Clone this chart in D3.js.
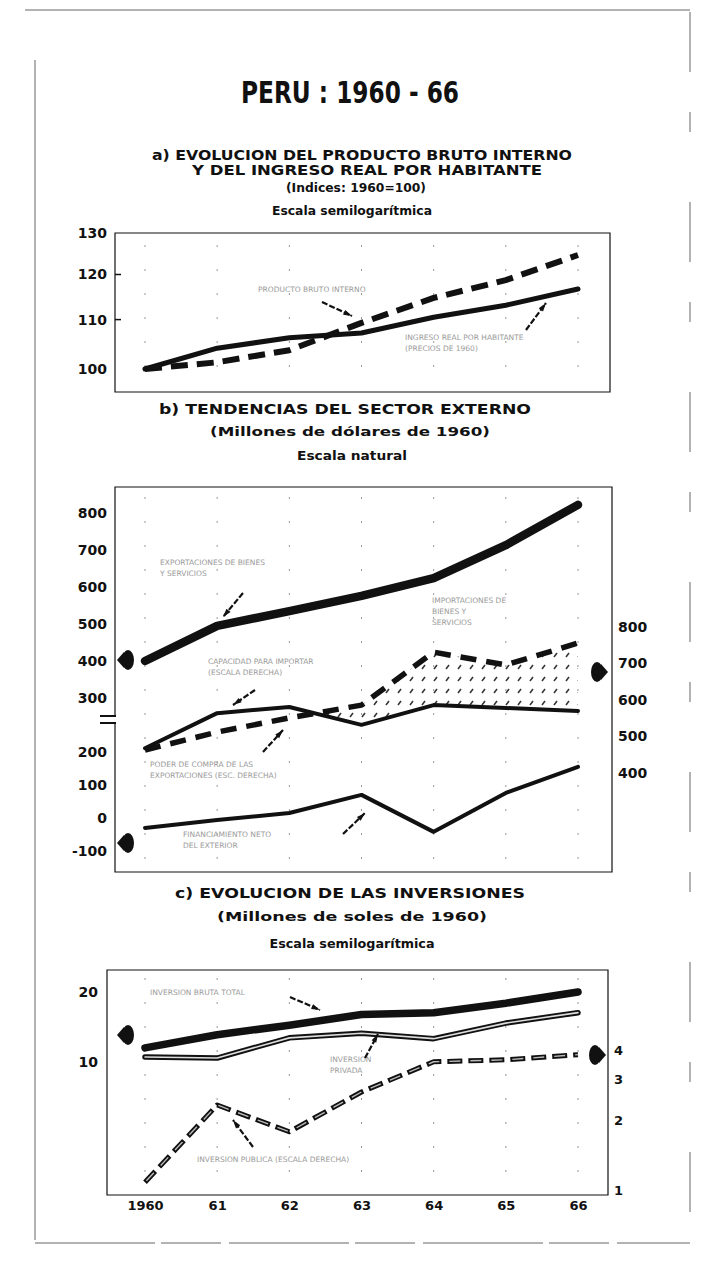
<!DOCTYPE html>
<html><head><meta charset="utf-8">
<script src="https://cdn.jsdelivr.net/npm/d3@7"></script>
<style>body{margin:0;background:#fff}svg{display:block}</style>
</head><body>
<script>
// ---------- DATA ----------
const years = [1960, 1961, 1962, 1963, 1964, 1965, 1966];
const xTickLabels = ["1960", "61", "62", "63", "64", "65", "66"];

// a) indices 1960 = 100 (semilog)
const aTicks = [100, 110, 120, 130];
const aProducto = [100, 101.3, 103.7, 109.3, 114.7, 118.7, 124.6];
const aIngreso = [100, 104.1, 106.2, 107.2, 110.5, 113.1, 116.7];

// b) millones de dólares de 1960 (natural)
const bLeftTicksUpper = [300, 400, 500, 600, 700, 800];
const bLeftTicksLower = [-100, 0, 100, 200];
const bRightTicks = [400, 500, 600, 700, 800];
const bExportaciones = [400, 495, 535, 576, 624, 713, 822];
const bCapacidad = [468, 564, 581, 532, 586, 578, 570];
const bImportaciones = [463, 512, 551, 586, 731, 696, 756];
const bSaldo = [-30, -6, 15, 70, -42, 76, 155];

// c) millones de soles de 1960 (semilog)
const cLeftTicks = [10, 20];
const cRightTicks = [1, 2, 3, 4];
const cTotal = [11.5, 13.1, 14.4, 16.0, 16.3, 17.9, 20.0];
const cPrivada = [10.5, 10.4, 12.7, 13.3, 12.6, 14.7, 16.3];
const cPublica = [1.08, 2.32, 1.78, 2.64, 3.56, 3.63, 3.82];

// ---------- DRAW ----------
const W = 704, H = 1269;
const svg = d3.select("body").append("svg").attr("width", W).attr("height", H);
const FONT = "'DejaVu Sans', 'Liberation Sans', sans-serif";
const ink = "#111";
const fmtInt = d => String(d);

const defs = svg.append("defs");
const pat = defs.append("pattern").attr("id", "hatch").attr("patternUnits", "userSpaceOnUse")
  .attr("width", 12).attr("height", 12);
pat.append("line").attr("x1", 2).attr("y1", 9).attr("x2", 5).attr("y2", 5)
  .attr("stroke", "#333").attr("stroke-width", 1.6);

// page frame
const frame = svg.append("g").attr("fill", "none").attr("stroke", "#666").attr("stroke-width", 1);
frame.append("line").attr("x1", 25).attr("x2", 690).attr("y1", 10).attr("y2", 10);
frame.append("line").attr("x1", 35).attr("x2", 35).attr("y1", 60).attr("y2", 1240);
frame.append("line").attr("x1", 35).attr("x2", 690).attr("y1", 1243).attr("y2", 1243).attr("stroke-dasharray", "120,6,60,8");
frame.append("line").attr("x1", 690).attr("x2", 690).attr("y1", 12).attr("y2", 1243).attr("stroke-dasharray", "60,40,20,70");

function txt(x, y, s, size, len, opts = {}) {
  const t = svg.append("text").attr("x", x).attr("y", y).text(s)
    .attr("font-family", FONT).attr("font-weight", opts.weight || "bold")
    .attr("font-size", size).attr("fill", opts.fill || ink)
    .attr("text-anchor", opts.anchor || "middle");
  if (len) t.attr("textLength", len).attr("lengthAdjust", "spacingAndGlyphs");
  if (opts.stroke) t.attr("stroke", opts.stroke).attr("stroke-width", opts.sw || 0.4);
  return t;
}

// titles
txt(350, 103, "PERU : 1960 - 66", 31, 218);
txt(362, 160, "a) EVOLUCION DEL PRODUCTO BRUTO INTERNO", 13.5, 420);
txt(367, 175, "Y DEL INGRESO REAL POR HABITANTE", 13.5, 350);
txt(356, 192, "(Indices: 1960=100)", 12, 140);
txt(352, 215, "Escala semilogarítmica", 12, 160);

txt(345, 414, "b) TENDENCIAS DEL SECTOR EXTERNO", 13.5, 372);
txt(350, 436, "(Millones de dólares de 1960)", 12.5, 280);
txt(352, 460, "Escala natural", 12, 110);

txt(350, 898, "c) EVOLUCION DE LAS INVERSIONES", 13.5, 350);
txt(352, 921, "(Millones de soles de 1960)", 12.5, 270);
txt(352, 948, "Escala semilogarítmica", 12, 165);

const x = d3.scaleLinear().domain([1960, 1966]).range([145, 578]);

function label(lines, x0, y0, size = 7.5) {
  lines.forEach((l, i) => txt(x0, y0 + i * 11, l, size, null, { fill: "#9a9a9a", anchor: "start", weight: "normal" }));
}
function arrow(x1, y1, x2, y2) {
  svg.append("line").attr("x1", x1).attr("y1", y1).attr("x2", x2).attr("y2", y2)
    .attr("stroke", ink).attr("stroke-width", 2.2).attr("stroke-dasharray", "6,2");
  const a = Math.atan2(y2 - y1, x2 - x1);
  const p = [[x2, y2], [x2 - 9 * Math.cos(a - 0.3), y2 - 9 * Math.sin(a - 0.3)], [x2 - 9 * Math.cos(a + 0.3), y2 - 9 * Math.sin(a + 0.3)]];
  svg.append("path").attr("d", "M" + p.join("L") + "Z").attr("fill", ink);
}
function blob(cx, cy, dir) {
  svg.append("ellipse").attr("cx", cx).attr("cy", cy).attr("rx", 6).attr("ry", 10).attr("fill", ink);
  svg.append("path").attr("d", `M${cx + dir * 4},${cy - 8} L${cx + dir * 11},${cy} L${cx + dir * 4},${cy + 8} Z`).attr("fill", ink);
}
function vgrid(y0, y1) {
  svg.append("g").selectAll("line").data(years).join("line")
    .attr("x1", d => x(d)).attr("x2", d => x(d)).attr("y1", y0).attr("y2", y1)
    .attr("stroke", "#999").attr("stroke-width", 1).attr("stroke-dasharray", "2,22");
}
function leftAxis(scale, ticks, xpos) {
  const g = svg.append("g").attr("transform", `translate(${xpos},0)`)
    .call(d3.axisLeft(scale).tickValues(ticks).tickSize(0).tickPadding(7).tickFormat(fmtInt));
  g.select(".domain").remove();
  g.selectAll("text").attr("font-family", FONT).attr("font-weight", "bold").attr("font-size", 14).attr("fill", ink);
  return g;
}
function rightAxis(scale, ticks, xpos, size) {
  const g = svg.append("g").attr("transform", `translate(${xpos},0)`)
    .call(d3.axisRight(scale).tickValues(ticks).tickSize(0).tickPadding(5).tickFormat(fmtInt));
  g.select(".domain").remove();
  g.selectAll("text").attr("font-family", FONT).attr("font-weight", "bold").attr("font-size", size || 14).attr("fill", ink);
  return g;
}
function line(scale, vals, w, dash) {
  const gen = d3.line().x((d, i) => x(years[i])).y(d => scale(d));
  const p = svg.append("path").attr("d", gen(vals)).attr("fill", "none").attr("stroke", ink)
    .attr("stroke-width", w).attr("stroke-linejoin", "round").attr("stroke-linecap", "round");
  if (dash) p.attr("stroke-dasharray", dash).attr("stroke-linecap", "butt");
  return p;
}

// ---------- PANEL A ----------
const yA = d3.scaleLog().domain([100, 130]).range([369, 233]);
const A = { l: 115, r: 610, t: 233, b: 392 };
vgrid(A.t + 12, A.b - 4);
svg.append("path").attr("d", `M${A.l},${A.t}H${A.r}V${A.b}H${A.l}Z`).attr("fill", "none").attr("stroke", ink).attr("stroke-width", 1.2);
leftAxis(yA, aTicks, A.l - 1);
svg.append("g").selectAll("line").data([110, 120]).join("line")
  .attr("x1", A.l).attr("x2", A.l + 6).attr("y1", d => yA(d)).attr("y2", d => yA(d)).attr("stroke", ink).attr("stroke-width", 1.5);
line(yA, aIngreso, 5);
line(yA, aProducto, 6, "17,9");
label(["PRODUCTO BRUTO INTERNO"], 258, 292);
arrow(322, 302, 352, 316);
label(["INGRESO REAL POR HABITANTE", "(PRECIOS DE 1960)"], 405, 340);
arrow(526, 330, 546, 303);

// ---------- PANEL B ----------
const yBU = d3.scaleLinear().domain([300, 800]).range([698, 513]);
const yBL = d3.scaleLinear().domain([-100, 200]).range([851, 752]);
const yBR = d3.scaleLinear().domain([400, 800]).range([773, 627]);
const B = { l: 115, r: 612, t: 487, b: 872 };
vgrid(B.t + 10, B.b - 4);
svg.append("path").attr("d", `M${B.l},${B.t}H${B.r}V${B.b}H${B.l}Z`).attr("fill", "none").attr("stroke", ink).attr("stroke-width", 1.2);
// axis break
svg.append("rect").attr("x", B.l - 3).attr("y", 715).attr("width", 6).attr("height", 9).attr("fill", "#fff");
svg.append("line").attr("x1", 100).attr("x2", 116).attr("y1", 716).attr("y2", 716).attr("stroke", ink).attr("stroke-width", 2);
svg.append("line").attr("x1", 100).attr("x2", 116).attr("y1", 723).attr("y2", 723).attr("stroke", ink).attr("stroke-width", 2);
leftAxis(yBU, bLeftTicksUpper, B.l - 1);
leftAxis(yBL, bLeftTicksLower, B.l - 1);
rightAxis(yBR, bRightTicks, B.r + 1);

// hatched area between importaciones and capacidad where imports exceed capacity
(function () {
  const top = [], bot = [];
  for (let i = 0; i < years.length - 1; i++) {
    const d0 = bImportaciones[i] - bCapacidad[i], d1 = bImportaciones[i + 1] - bCapacidad[i + 1];
    if (d0 >= 0) { top.push([x(years[i]), yBR(bImportaciones[i])]); bot.push([x(years[i]), yBR(bCapacidad[i])]); }
    if ((d0 < 0 && d1 > 0) || (d0 > 0 && d1 < 0)) {
      const t = d0 / (d0 - d1);
      const xx = years[i] + t, vv = bCapacidad[i] + t * (bCapacidad[i + 1] - bCapacidad[i]);
      top.push([x(xx), yBR(vv)]); bot.push([x(xx), yBR(vv)]);
    }
  }
  const n = years.length - 1;
  top.push([x(years[n]), yBR(bImportaciones[n])]); bot.push([x(years[n]), yBR(bCapacidad[n])]);
  const poly = top.concat(bot.reverse());
  svg.append("path").attr("d", "M" + poly.join("L") + "Z").attr("fill", "url(#hatch)");
})();

line(yBU, bExportaciones, 8.5);
line(yBR, bCapacidad, 4);
line(yBR, bImportaciones, 5.5, "16,10");
line(yBL, bSaldo, 4);
blob(128, 660, -1);
blob(128, 843, -1);
blob(597, 672, 1);
label(["EXPORTACIONES DE BIENES", "Y SERVICIOS"], 160, 565);
arrow(243, 593, 223, 617);
label(["IMPORTACIONES DE", "BIENES Y", "SERVICIOS"], 432, 603);
label(["CAPACIDAD PARA IMPORTAR", "(ESCALA DERECHA)"], 208, 664);
arrow(255, 690, 233, 705);
label(["PODER DE COMPRA DE LAS", "EXPORTACIONES (ESC. DERECHA)"], 150, 767);
arrow(263, 752, 283, 730);
label(["FINANCIAMIENTO NETO", "DEL EXTERIOR"], 183, 837);
arrow(343, 834, 365, 813);

// ---------- PANEL C ----------
const yCL = d3.scaleLog().domain([10, 20]).range([1062, 992]);
const yCR = d3.scaleLog().domain([1, 4]).range([1190, 1050]);
const C = { l: 107, r: 608, t: 970, b: 1195 };
vgrid(C.t + 8, C.b - 4);
svg.append("path").attr("d", `M${C.l},${C.t}H${C.r}V${C.b}H${C.l}Z`).attr("fill", "none").attr("stroke", ink).attr("stroke-width", 1.2);
leftAxis(yCL, cLeftTicks, C.l - 2);
rightAxis(yCR, cRightTicks, C.r + 1, 13);
const xa = svg.append("g").attr("transform", `translate(0,${C.b})`)
  .call(d3.axisBottom(x).tickValues(years).tickSize(0).tickPadding(6).tickFormat((d, i) => xTickLabels[i]));
xa.select(".domain").remove();
xa.selectAll("text").attr("font-family", FONT).attr("font-weight", "bold").attr("font-size", 13).attr("fill", ink);

line(yCL, cTotal, 7.5);
line(yCL, cPrivada, 5.5);
line(yCL, cPrivada, 1.6).attr("stroke", "#ddd");
line(yCR, cPublica, 5, "15,6");
line(yCR, cPublica, 1.4, "11,10").attr("stroke", "#bbb").attr("stroke-dashoffset", -2);
blob(128, 1035, -1);
blob(595, 1055, 1);
label(["INVERSION BRUTA TOTAL"], 150, 995);
arrow(290, 997, 320, 1010);
label(["INVERSION", "PRIVADA"], 330, 1062);
arrow(365, 1058, 378, 1034);
label(["INVERSION PUBLICA (ESCALA DERECHA)"], 197, 1162);
arrow(253, 1147, 233, 1120);
</script>
</body></html>
